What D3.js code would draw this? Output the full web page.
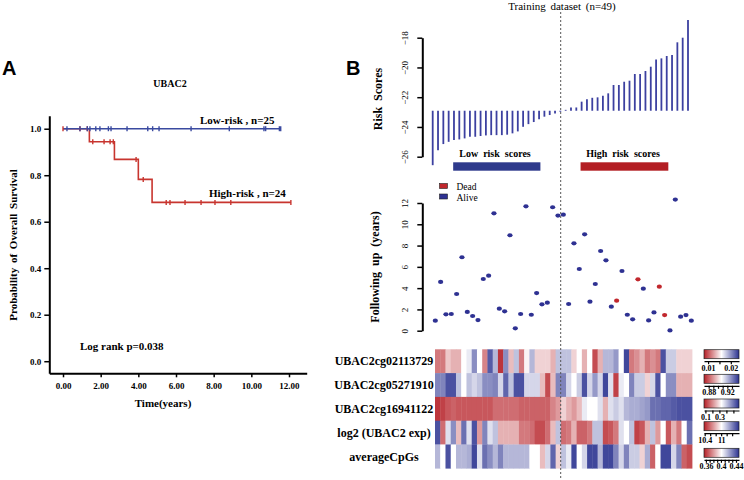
<!DOCTYPE html>
<html>
<head>
<meta charset="utf-8">
<script src="https://cdn.jsdelivr.net/npm/d3@7"></script>
<style>
  body { margin: 0; background: #fff; }
  svg { font-family: "Liberation Serif", "Times New Roman", serif; }
  .ax path, .ax line { stroke: #000; }
</style>
</head>
<body>
<div id="chart"></div>
<script>
// ---- panel A: Kaplan-Meier ----
const kmTicksX = [0, 2, 4, 6, 8, 10, 12];
const kmTicksY = [0, 0.2, 0.4, 0.6, 0.8, 1.0];
const lowSteps = [[0, 1], [11.56, 1]];
const lowCensor = [0.21, 0.9, 1.29, 1.43, 1.74, 1.96, 2.41, 2.55, 3.4, 4.5, 4.76, 5.1, 6.8, 8.83, 10.67, 10.76, 11.49, 11.56];
const highSteps = [[0, 1], [1.4, 0.944], [2.73, 0.868], [4.0, 0.782], [4.73, 0.683], [12.1, 0.683]];
const highCensor = [0, 0.9, 1.29, 1.58, 2.18, 2.5, 2.67, 3.88, 4.26, 5.48, 5.68, 6.48, 7.33, 8.07, 8.91, 12.1];

// ---- panel B ----
const riskScores = [-26.57, -25.56, -25.15, -25.0, -24.88, -24.84, -24.77, -24.66, -24.66, -24.61,
  -24.57, -24.55, -24.55, -24.55, -24.52, -24.43, -24.3, -23.99, -23.81, -23.67,
  -23.49, -23.31, -23.2, -23.09, -22.98,
  -22.85, -22.69, -22.69, -22.3, -22.13, -22.04, -22.01, -21.9, -21.74, -21.18,
  -21.18, -20.96, -20.89, -20.44, -20.44, -20.24, -19.95, -19.46, -19.39, -19.23,
  -19.17, -18.31, -18.0, -16.81];
const riskCutoff = -22.91;
const riskTicks = [-26, -24, -22, -20, -18];

const followUp = [0.94, 4.58, 1.54, 1.57, 3.45, 6.9, 1.76, 1.38, 1.0, 4.86,
  5.17, 11.03, 2.07, 1.82, 8.97, 0.22, 1.57, 11.69, 1.5, 3.54,
  2.48, 2.63, 11.6, 10.82, 10.9,
  2.51, 8.21, 5.8, 9.06, 2.73, 4.39, 7.49, 6.61, 2.26, 2.82,
  5.61, 1.5, 1.07, 4.83, 3.95, 0.97, 1.72, 4.14, 1.47, 0.03,
  12.32, 1.32, 1.47, 0.94];
const deadIdx = [34, 38, 42, 43];
const followTicks = [0, 2, 4, 6, 8, 10, 12];

const rowNames = ["UBAC2cg02113729", "UBAC2cg05271910", "UBAC2cg16941122", "log2 (UBAC2 exp)", "averageCpGs"];
// scaled values, -1 = deep red, 1 = deep blue
const row1 = [-0.6, -0.6, -0.25, -0.35, -0.35, 0, 0.1, 0.55, 0, -0.55, 0.8, 0.35, -0.9, 0.55, -0.3, 0.3, -0.6, -0.05, 0.35, -0.2,
  -0.2, -0.2, -0.35, 0.3, 0.3, 0.3, -0.2, 0, -0.35, 0, -0.8, -0.35, 0.35, 0.35, 0.5, 0, 0.9, -0.6, -0.5, -0.35,
  -0.6, -0.5, -0.6, 0.85, 0.25, 0.25, -0.2, -0.2, -0.2];
const row2 = [0.6, 0.6, 0.85, 0.85, 0.3, 0, 0.3, 0.2, 0.3, 0.55, 0.55, 0.6, 0.2, 0.75, 0.3, 0.85, 0.85, 0.2, 0.2, 0.2,
  -0.3, -0.8, -0.3, 0.6, 0.6, 0.2, 0, 0.25, 0.85, 0.2, 0.5, 0.2, 0.9, 0.15, -0.85, 0.1, 0, 0.6, 0.25, 0.25,
  -0.2, 0.2, 0.85, 0, 0.55, 0.55, -0.35, -0.35, -0.35];
const row3 = [-0.9, -0.85, -0.75, -0.7, -0.75, -0.75, -0.75, -0.75, -0.75, -0.75, -0.75, -0.65, -0.65, -0.65, -0.65, -0.65, -0.7, -0.7, -0.7, -0.7,
  -0.7, -0.7, -0.55, -0.45, -0.2, -0.35, -0.45, -0.3, 0.1, 0, 0, 0.15, -0.35, 0.15, 0.25, 0.15, 0.35, 0.4, 0.4, 0.45,
  0.5, 0.7, 0.7, 0.75, 0.75, 0.8, 0.85, 0.85, 0.85];
const row4 = [0.85, -0.65, 0.15, 0.55, -0.3, 0.7, 0.15, 0.85, -0.45, 0.6, 0.15, 0.3, -0.35, -0.35, -0.35, -0.35, -0.6, -0.6, -0.65, -0.8,
  -0.8, -0.65, -0.3, 0.3, -0.65, -0.6, -0.35, -0.7, -0.7, -0.6, 0.3, 0.3, -0.8, -0.75, -0.6, 0.15, 0, 0.3, -0.85, -0.75,
  -0.35, 0.3, -0.45, 0, -0.75, -0.35, -0.6, 0, 0.7];
const row5 = [0.35, 0, 0.85, 0, 0.35, 0.35, 0.4, 0.9, 0.15, 0.7, 0.55, 0.35, 0.6, 0.35, 0.35, 0.35, 0.35, 0.35, 0, 0,
  -0.3, 0.2, 0.75, -0.2, 0.3, 0.1, 0.9, 0, 0.2, 0.9, 0.9, 0.35, 0.9, 0.9, 0.6, 0.2, 0.6, 0.25, 0.25, -0.2,
  0.4, -0.7, 0, 0.9, 0.9, 0.2, 0.6, -0.7, -0.8];
const heatRows = [row1, row2, row3, row4, row5];

const cbDomains = [[0.0082, 0.0236], [0.87, 0.945], [0.08, 0.58], [10.375, 11.65], [0.355, 0.448]];
const cbTicks = [[0.01, 0.015, 0.02], [0.88, 0.89, 0.9, 0.91, 0.92, 0.93], [0.1, 0.2, 0.3, 0.4, 0.5],
  [10.4, 10.6, 10.8, 11, 11.2, 11.4], [0.36, 0.37, 0.38, 0.39, 0.4, 0.41, 0.42, 0.43, 0.44]];
const cbLabels = [["0.01", "0.02"], ["0.88", "0.92"], ["0.1", "0.3"], ["10.4", "11"], ["0.36", "0.4", "0.44"]];

const svg = d3.select("#chart").append("svg")
  .attr("width", 744)
  .attr("height", 480);

const blue = "#3a4aa0", red = "#c8352f";

// ================= A =================
svg.append("text").attr("x", 2).attr("y", 75)
  .style("font-family", "'Liberation Sans', Arial, sans-serif")
  .style("font-weight", "bold").style("font-size", "20px").text("A");

const kmX = d3.scaleLinear().domain([-0.728, 12.94]).range([49.3, 306.7]);
const kmY = d3.scaleLinear().domain([-0.052, 1.056]).range([373.3, 115.7]);

const gy = svg.append("g").attr("class", "ax")
  .attr("transform", "translate(49.3,0)")
  .call(d3.axisLeft(kmY).tickValues(kmTicksY).tickSize(5).tickSizeOuter(0).tickFormat(d3.format(".1f")));
const gx = svg.append("g").attr("class", "ax")
  .attr("transform", "translate(0,373.3)")
  .call(d3.axisBottom(kmX).tickValues(kmTicksX).tickSize(4).tickSizeOuter(0).tickFormat(d3.format(".2f")));
[gy, gx].forEach(g => {
  g.select(".domain").attr("stroke-width", 2);
  g.selectAll(".tick line").attr("stroke-width", 1.5);
  g.selectAll("text").style("font-family", "'Liberation Serif', serif")
    .style("font-weight", "bold").style("font-size", "9px").attr("fill", "#000");
});
gx.selectAll("text").attr("dy", "1em");

const kmLine = d3.line().x(d => kmX(d[0])).y(d => kmY(d[1])).curve(d3.curveStepAfter);
svg.append("path").datum(highSteps).attr("d", kmLine)
  .attr("fill", "none").attr("stroke", red).attr("stroke-width", 1.6);
svg.append("path").datum(lowSteps).attr("d", kmLine)
  .attr("fill", "none").attr("stroke", blue).attr("stroke-width", 1.6);

function survAt(steps, t) {
  let s = 1;
  steps.forEach(d => { if (d[0] <= t) s = d[1]; });
  return s;
}
svg.selectAll(".cens-high").data(highCensor).enter().append("line")
  .attr("x1", d => kmX(d)).attr("x2", d => kmX(d))
  .attr("y1", d => kmY(survAt(highSteps, d)) - 2.5).attr("y2", d => kmY(survAt(highSteps, d)) + 2.5)
  .attr("stroke", red).attr("stroke-width", 1.4);
svg.selectAll(".cens-low").data(lowCensor).enter().append("line")
  .attr("x1", d => kmX(d)).attr("x2", d => kmX(d))
  .attr("y1", kmY(1) - 2.5).attr("y2", kmY(1) + 2.5)
  .attr("stroke", blue).attr("stroke-width", 1.4);

const boldTxt = (x, y, s, size, anchor) => svg.append("text")
  .attr("x", x).attr("y", y).attr("text-anchor", anchor || "start")
  .style("font-weight", "bold").style("font-size", size + "px").text(s);

boldTxt(170, 87, "UBAC2", 10, "middle");
boldTxt(200, 124, "Low-risk , n=25", 11);
boldTxt(209, 197, "High-risk , n=24", 11);
boldTxt(80, 350, "Log rank p=0.038", 11);
boldTxt(163, 407, "Time(years)", 11, "middle");
svg.append("text").attr("transform", "translate(17,245) rotate(-90)")
  .attr("text-anchor", "middle").style("font-weight", "bold").style("font-size", "11px")
  .style("word-spacing", "2px").text("Probability of Overall Survival");

// ================= B =================
svg.append("text").attr("x", 346).attr("y", 75)
  .style("font-family", "'Liberation Sans', Arial, sans-serif")
  .style("font-weight", "bold").style("font-size", "20px").text("B");

svg.append("text").attr("x", 562).attr("y", 10).attr("text-anchor", "middle")
  .style("font-size", "11px").style("word-spacing", "2px").text("Training dataset (n=49)");

// risk score panel
const rX = d3.scaleLinear().domain([0, 48]).range([432.7, 688]);
const rY = d3.scaleLinear().domain([-26, -18]).range([156.7, 37.7]);

function rAxis(scale, ticks, x) {
  const g = svg.append("g").attr("class", "ax")
    .attr("transform", `translate(${x},0)`)
    .call(d3.axisLeft(scale).tickValues(ticks).tickSize(5).tickSizeOuter(0));
  g.select(".domain").attr("stroke-width", 2);
  g.selectAll(".tick line").attr("stroke-width", 1.5);
  g.selectAll("text")
    .attr("x", null).attr("dy", null).attr("text-anchor", "middle")
    .attr("transform", "translate(-14.5,0) rotate(-90)")
    .style("font-family", "'Liberation Serif', serif").style("font-size", "9px").attr("fill", "#000");
  return g;
}
rAxis(rY, riskTicks, 422.3);

svg.selectAll(".risk-bar").data(riskScores).enter().append("line")
  .attr("x1", (d, i) => rX(i)).attr("x2", (d, i) => rX(i))
  .attr("y1", rY(riskCutoff)).attr("y2", d => rY(d))
  .attr("stroke", "#3c40a0").attr("stroke-width", 1.8);

svg.append("text").attr("transform", "translate(382,99) rotate(-90)")
  .attr("text-anchor", "middle").style("font-weight", "bold").style("font-size", "12px")
  .style("word-spacing", "3px").text("Risk Scores");

svg.append("text").attr("x", 495).attr("y", 157).attr("text-anchor", "middle")
  .style("font-weight", "bold").style("font-size", "10px").style("word-spacing", "2.5px").text("Low risk scores");
svg.append("text").attr("x", 623).attr("y", 157).attr("text-anchor", "middle")
  .style("font-weight", "bold").style("font-size", "10px").style("word-spacing", "2.5px").text("High risk scores");
svg.append("rect").attr("x", rX(3.85)).attr("y", 162.3).attr("width", rX(20.25) - rX(3.85)).attr("height", 8.4)
  .attr("fill", "#2e3a8c");
svg.append("rect").attr("x", rX(27.8)).attr("y", 162.3).attr("width", rX(44.3) - rX(27.8)).attr("height", 8.4)
  .attr("fill", "#b31e23");

// follow-up panel
const fX = d3.scaleLinear().domain([0, 48]).range([435.3, 691.3]);
const fY = d3.scaleLinear().domain([0, 12]).range([330.7, 203]);
rAxis(fY, followTicks, 422.3);

svg.selectAll(".fu-dot").data(followUp).enter().append("ellipse")
  .attr("cx", (d, i) => fX(i)).attr("cy", d => fY(d))
  .attr("rx", 2.6).attr("ry", 2.1)
  .attr("fill", (d, i) => deadIdx.includes(i) ? "#c1272d" : "#2e3192");

svg.append("text").attr("transform", "translate(379,267) rotate(-90)")
  .attr("text-anchor", "middle").style("font-weight", "bold").style("font-size", "12px")
  .style("word-spacing", "3px").text("Following up (years)");

const legend = [["Dead", "#c1272d"], ["Alive", "#2e3192"]];
legend.forEach((d, i) => {
  svg.append("rect").attr("x", 439.5).attr("y", 183.5 + i * 10.5).attr("width", 8).attr("height", 5)
    .attr("fill", d[1]).attr("stroke", "#222").attr("stroke-width", 0.6);
  svg.append("text").attr("x", 456.5).attr("y", 190 + i * 10.5)
    .style("font-size", "9.5px").text(d[0]);
});

// heatmap
const color = d3.scaleLinear().domain([-1, 0, 1]).range(["#b51f26", "#ffffff", "#2b3290"]);
const hmX = d3.scaleBand().domain(d3.range(49)).range([435, 692]);
const hmY = d3.scaleBand().domain(rowNames).range([349.3, 468.3]);

heatRows.forEach((row, r) => {
  svg.selectAll(".cell-" + r).data(row).enter().append("rect")
    .attr("x", (d, i) => hmX(i)).attr("y", hmY(rowNames[r]))
    .attr("width", hmX.bandwidth() + 0.4).attr("height", hmY.bandwidth() + 0.3)
    .attr("fill", d => color(d));
});
rowNames.forEach(n => {
  svg.append("text").attr("x", 384).attr("y", hmY(n) + hmY.bandwidth() / 2).attr("dy", "0.35em")
    .attr("text-anchor", "middle").style("font-weight", "bold").style("font-size", "12px").text(n);
});

// dotted separator
svg.append("line").attr("x1", 560.7).attr("x2", 560.7).attr("y1", 12).attr("y2", 478)
  .attr("stroke", "#555").attr("stroke-width", 1).attr("stroke-dasharray", "2,2");

// colour keys
const defs = svg.append("defs");
const grad = defs.append("linearGradient").attr("id", "cbgrad");
d3.range(0, 1.01, 0.1).forEach(t => {
  grad.append("stop").attr("offset", t).attr("stop-color", color(t * 2 - 1));
});
const cbTop = [349.7, 374.3, 399, 421.7, 448.3];
cbDomains.forEach((dom, k) => {
  const s = d3.scaleLinear().domain(dom).range([704, 739]);
  svg.append("rect").attr("x", 704).attr("y", cbTop[k]).attr("width", 35).attr("height", 9)
    .attr("fill", "url(#cbgrad)").attr("stroke", "#222").attr("stroke-width", 0.7);
  const g = svg.append("g").attr("class", "ax")
    .attr("transform", `translate(0,${cbTop[k] + 11.5})`)
    .call(d3.axisBottom(s).tickValues(cbTicks[k]).tickSize(3).tickSizeOuter(0)
      .tickFormat(d => { const l = cbLabels[k].find(v => +v === +d.toFixed(4)); return l || ""; }));
  g.select(".domain").attr("stroke-width", 1.2);
  g.selectAll(".tick line").attr("stroke-width", 1.2);
  g.selectAll("text").attr("y", 4).attr("dy", "0.71em")
    .style("font-family", "'Liberation Serif', serif").style("font-weight", "bold")
    .style("font-size", "8px").attr("fill", "#000");
});
</script>
</body>
</html>
